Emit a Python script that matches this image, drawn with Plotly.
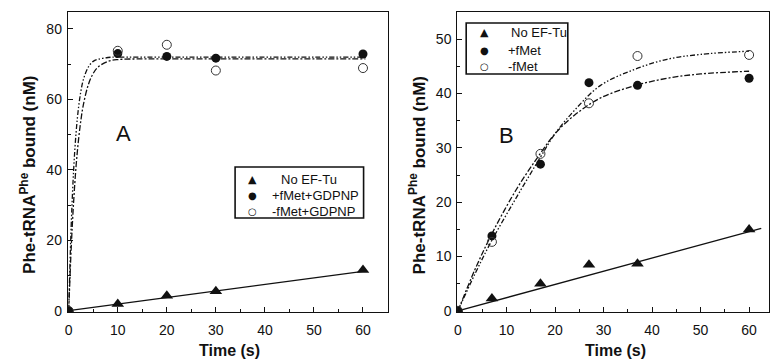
import plotly.graph_objects as go

# ---------------- data ----------------
# Panel A
a_time = [0, 10, 20, 30, 60]
a_no_eftu = [0, 2.0, 4.3, 5.6, 11.6]
a_fmet_gdpnp = [0, 73.0, 72.2, 71.7, 72.9]
a_nofmet_gdpnp = [0, 73.8, 75.5, 68.2, 68.9]
a_line_x = [0, 60]
a_line_y = [0.1, 11.2]
a_fit1_x = [0, 0.5, 1, 1.5, 2, 2.5, 3, 4, 5, 6, 8, 10, 20, 30, 40, 50, 60.5]
a_fit1_y = [0, 24.0, 40.0, 50.6, 57.7, 62.5, 65.7, 69.2, 70.8, 71.4, 71.9, 72.0, 72.0, 72.0, 72.0, 72.0, 72.0]
a_fit2_x = [0, 0.5, 1, 1.5, 2, 2.5, 3, 4, 5, 6, 8, 10, 15, 20, 30, 40, 50, 60.5]
a_fit2_y = [0, 17.7, 31.0, 41.1, 48.6, 54.3, 58.6, 64.2, 67.4, 69.2, 70.8, 71.3, 71.5, 71.5, 71.5, 71.5, 71.5, 71.5]
a_legend_labels = ["No EF-Tu", "+fMet+GDPNP", "-fMet+GDPNP"]

# Panel B
b_time = [0, 7, 17, 27, 37, 60]
b_no_eftu = [0, 2.3, 5.0, 8.5, 8.7, 15.0]
b_fmet = [0, 13.8, 27.0, 42.0, 41.5, 42.8]
b_nofmet = [0, 12.7, 28.9, 38.2, 46.9, 47.1]
b_line_x = [0, 62.5]
b_line_y = [0, 15.2]
b_fit_x = [0, 3.5, 7, 12, 17, 20, 24, 29.4, 36.3, 43.1, 50, 60]
b_fit_fmet_y = [0, 7.6, 14.2, 22.3, 29.0, 32.6, 36.0, 39.2, 41.4, 42.8, 43.6, 44.1]
b_fit_nofmet_y = [0, 6.8, 13.0, 20.8, 28.3, 32.6, 36.9, 41.5, 44.4, 46.3, 47.2, 47.8]
b_legend_labels = ["No EF-Tu", "+fMet", "-fMet"]

x_ticks = [0, 10, 20, 30, 40, 50, 60]
a_y_ticks = [0, 20, 40, 60, 80]
b_y_ticks = [0, 10, 20, 30, 40, 50]

W, H = 770, 360
FONT = "Liberation Sans, Arial, sans-serif"
SYMFONT = "DejaVu Sans, Liberation Sans, sans-serif"
BLACK = "#111111"
DASH_DDOT = "5px,2px,1.5px,2px,1.5px,2px"
DASH_DOT = "6px,2px,2px,2px"

fig = go.Figure()


def add_panel(xa, ya, tx, tri, fm, nfm, lx, ly, f1x, f1y, d1, f2x, f2y, d2, names):
    fig.add_trace(go.Scatter(x=lx, y=ly, mode="lines", line=dict(color=BLACK, width=1.3),
                             showlegend=False, xaxis=xa, yaxis=ya, hoverinfo="skip"))
    fig.add_trace(go.Scatter(x=f1x, y=f1y, mode="lines", line_shape="spline",
                             line=dict(color=BLACK, width=1.3, dash=d1),
                             showlegend=False, xaxis=xa, yaxis=ya, hoverinfo="skip"))
    fig.add_trace(go.Scatter(x=f2x, y=f2y, mode="lines", line_shape="spline",
                             line=dict(color=BLACK, width=1.3, dash=d2),
                             showlegend=False, xaxis=xa, yaxis=ya, hoverinfo="skip"))
    fig.add_trace(go.Scatter(x=tx, y=tri, mode="markers", name=names[0], showlegend=False,
                             marker=dict(symbol="triangle-up", size=11, color=BLACK),
                             xaxis=xa, yaxis=ya))
    fig.add_trace(go.Scatter(x=tx, y=fm, mode="markers", name=names[1], showlegend=False,
                             marker=dict(symbol="circle", size=9, color=BLACK),
                             xaxis=xa, yaxis=ya))
    fig.add_trace(go.Scatter(x=tx, y=nfm, mode="markers", name=names[2], showlegend=False,
                             marker=dict(symbol="circle-open", size=9, color="#333333",
                                         line=dict(width=1)),
                             xaxis=xa, yaxis=ya))


add_panel("x", "y", a_time, a_no_eftu, a_fmet_gdpnp, a_nofmet_gdpnp, a_line_x, a_line_y,
          a_fit1_x, a_fit1_y, DASH_DDOT, a_fit2_x, a_fit2_y, DASH_DOT, a_legend_labels)
add_panel("x2", "y2", b_time, b_no_eftu, b_fmet, b_nofmet, b_line_x, b_line_y,
          b_fit_x, b_fit_fmet_y, DASH_DOT, b_fit_x, b_fit_nofmet_y, DASH_DDOT, b_legend_labels)

L, R, T, B = 0, 0, 12, 48
plot_h = H - T - B


def px_x(p):
    return p / W


def px_y(p):
    return (H - B - p) / plot_h


axis_common = dict(
    showgrid=False, zeroline=False, showline=True, mirror=True,
    linecolor=BLACK, linewidth=1,
    ticks="inside", ticklen=5, tickwidth=1, tickcolor=BLACK,
    tickfont=dict(family=FONT, size=14, color=BLACK),
)

annotations = [
    dict(text="A", x=px_x(121), y=px_y(133), font=dict(family=FONT, size=22, color=BLACK)),
    dict(text="B", x=px_x(505), y=px_y(135), font=dict(family=FONT, size=22, color=BLACK)),
    dict(text="<b>Time (s)</b>", x=px_x(227), y=px_y(351), font=dict(family=FONT, size=16, color=BLACK)),
    dict(text="<b>Time (s)</b>", x=px_x(615), y=px_y(351), font=dict(family=FONT, size=16, color=BLACK)),
    dict(text="<b>Phe-tRNA<sup>Phe</sup> bound (nM)</b>", x=px_x(25), y=px_y(175), textangle=-90,
         font=dict(family=FONT, size=17, color=BLACK)),
    dict(text="<b>Phe-tRNA<sup>Phe</sup> bound (nM)</b>", x=px_x(416), y=px_y(175), textangle=-90,
         font=dict(family=FONT, size=17, color=BLACK)),
]

# legends (drawn as boxed text entries)
legend_symbols = ["\u25B2", "\u25CF", "\u25CB"]
legend_sym_sizes = [11, 10, 10]
shapes = []


def add_legend(box, sym_x, rows, text_x, labels):
    shapes.append(dict(type="rect", xref="paper", yref="paper",
                       x0=px_x(box[0]), x1=px_x(box[2]), y0=px_y(box[3]), y1=px_y(box[1]),
                       line=dict(color=BLACK, width=1.6), fillcolor="rgba(255,255,255,0)"))
    for i, lab in enumerate(labels):
        annotations.append(dict(text=legend_symbols[i], x=px_x(sym_x), y=px_y(rows[i]),
                                xanchor="center", yanchor="middle",
                                font=dict(family=SYMFONT, size=legend_sym_sizes[i], color=BLACK)))
        annotations.append(dict(text=lab, x=px_x(text_x[i]), y=px_y(rows[i]),
                                xanchor="left", yanchor="middle",
                                font=dict(family=FONT, size=13, color=BLACK)))


add_legend((233, 167, 362, 218), 250, [179, 195, 211], [277, 268, 268], a_legend_labels)
add_legend((465, 23, 567, 74), 483, [33, 50, 66], [508, 505, 505], b_legend_labels)

for a in annotations:
    a.setdefault("xref", "paper")
    a.setdefault("yref", "paper")
    a.setdefault("showarrow", False)
    a.setdefault("xanchor", "center")
    a.setdefault("yanchor", "middle")

fig.update_layout(
    width=W, height=H,
    margin=dict(l=L, r=R, t=T, b=B),
    paper_bgcolor="white", plot_bgcolor="white",
    font=dict(family=FONT, color=BLACK),
    showlegend=False,
    xaxis=dict(domain=[px_x(65), px_x(387)], range=[-0.2, 65.2], tickvals=x_ticks,
               minor=dict(dtick=5, ticklen=3, ticks="inside", tickcolor=BLACK), anchor="y",
               ticklabelstandoff=5, **axis_common),
    yaxis=dict(domain=[0, 1], range=[-0.3, 84.8], tickvals=a_y_ticks,
               minor=dict(dtick=10, ticklen=3, ticks="inside", tickcolor=BLACK), anchor="x",
               ticklabelstandoff=2, **axis_common),
    xaxis2=dict(domain=[px_x(456), px_x(769)], range=[-0.15, 64.1], tickvals=x_ticks,
                minor=dict(dtick=5, ticklen=3, ticks="inside", tickcolor=BLACK), anchor="y2",
                ticklabelstandoff=5, **axis_common),
    yaxis2=dict(domain=[0, 1], range=[-0.2, 55], tickvals=b_y_ticks,
                minor=dict(dtick=5, ticklen=3, ticks="inside", tickcolor=BLACK), anchor="x2",
                ticklabelstandoff=2, **axis_common),
    annotations=annotations,
    shapes=shapes,
)

fig.write_html("out.html", config={"displayModeBar": False},
               post_script="document.body.style.margin='0';document.body.style.overflow='hidden';")
